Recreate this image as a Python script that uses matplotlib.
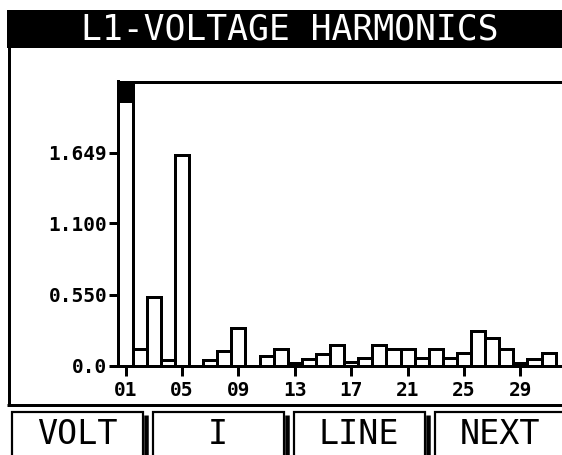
import matplotlib
matplotlib.use("Agg")
import matplotlib.pyplot as plt
from matplotlib.patches import Rectangle

# harmonic orders and amplitudes
harmonics = list(range(1, 32))
amplitudes = [2.30, 0.125, 0.53, 0.04, 1.63, 0.0, 0.04, 0.11, 0.29, 0.0,
              0.07, 0.125, 0.02, 0.05, 0.09, 0.16, 0.025, 0.06, 0.16, 0.125,
              0.125, 0.06, 0.13, 0.06, 0.10, 0.27, 0.215, 0.125, 0.02, 0.05,
              0.10]

y_ticks = [0.0, 0.55, 1.10, 1.649]
y_tick_labels = ["0.0", "0.550", "1.100", "1.649"]
x_ticks = [1, 5, 9, 13, 17, 21, 25, 29]
x_tick_labels = ["01", "05", "09", "13", "17", "21", "25", "29"]

title = "L1-VOLTAGE HARMONICS"
buttons = ["VOLT", "I", "LINE", "NEXT"]

W, H = 562, 455
MONO = "DejaVu Sans Mono"


def px(v):
    # pixels -> points at dpi 100
    return v * 0.72


fig = plt.figure(figsize=(W / 100, H / 100), dpi=100)
fig.patch.set_facecolor("white")

# overlay in pixel coordinates for the screen chrome
bg = fig.add_axes([0, 0, 1, 1])
bg.set_xlim(0, W)
bg.set_ylim(H, 0)
bg.axis("off")

# title bar
bg.add_patch(Rectangle((7, 10), W, 38, facecolor="black", edgecolor="none"))
bg.text(290, 30, title, color="white", fontsize=25, family=MONO,
        ha="center", va="center")

# panel frame (left + bottom)
bg.plot([8.5, 8.5], [47, 404.5], color="black", lw=px(3), solid_capstyle="butt")
bg.plot([7, W], [404.5, 404.5], color="black", lw=px(3), solid_capstyle="butt")

# soft keys
for i, label in enumerate(buttons):
    x0 = 12 + 141 * i
    bg.add_patch(Rectangle((x0, 411.5), 131, 60, facecolor="white",
                           edgecolor="black", lw=px(2.2)))
    bg.plot([x0 + 134, x0 + 134], [415, 470], color="black", lw=px(4.5),
            solid_capstyle="butt")
    bg.text(x0 + 65, 435, label, fontsize=24, family=MONO,
            ha="center", va="center", color="black")

# bar chart
left = 118.5 / W
bottom = 1 - 365.5 / H
top = 1 - 81.5 / H
ax = fig.add_axes([left, bottom, 1.02 - left, top - bottom])
ax.set_facecolor("white")

ymax = 2.2
px_per_bar = 14.1
xmax = 0.5 + (1.02 * W - 118.5) / px_per_bar
ax.set_xlim(0.5, xmax)
ax.set_ylim(0, ymax)

ax.bar(harmonics, amplitudes, width=1.0, facecolor="white",
       edgecolor="black", linewidth=px(3), zorder=2)

# overflow marker on the fundamental
cap = 0.15
ax.bar(harmonics[0], cap, bottom=ymax - cap, width=1.0, color="black",
       edgecolor="black", linewidth=px(3), zorder=3)

for side in ["left", "top", "bottom"]:
    ax.spines[side].set_linewidth(px(3))
    ax.spines[side].set_color("black")
ax.spines["right"].set_visible(False)

ax.set_yticks(y_ticks)
ax.set_yticklabels(y_tick_labels)
ax.set_xticks(x_ticks)
ax.set_xticklabels(x_tick_labels)
ax.tick_params(axis="y", direction="out", length=px(9), width=px(3),
               pad=px(2), labelsize=14)
ax.tick_params(axis="x", direction="out", length=px(10), width=px(3),
               pad=px(5), labelsize=14)
for lab in ax.get_xticklabels() + ax.get_yticklabels():
    lab.set_family(MONO)
    lab.set_fontweight("bold")

fig.savefig("out.png", dpi=100, facecolor="white")
